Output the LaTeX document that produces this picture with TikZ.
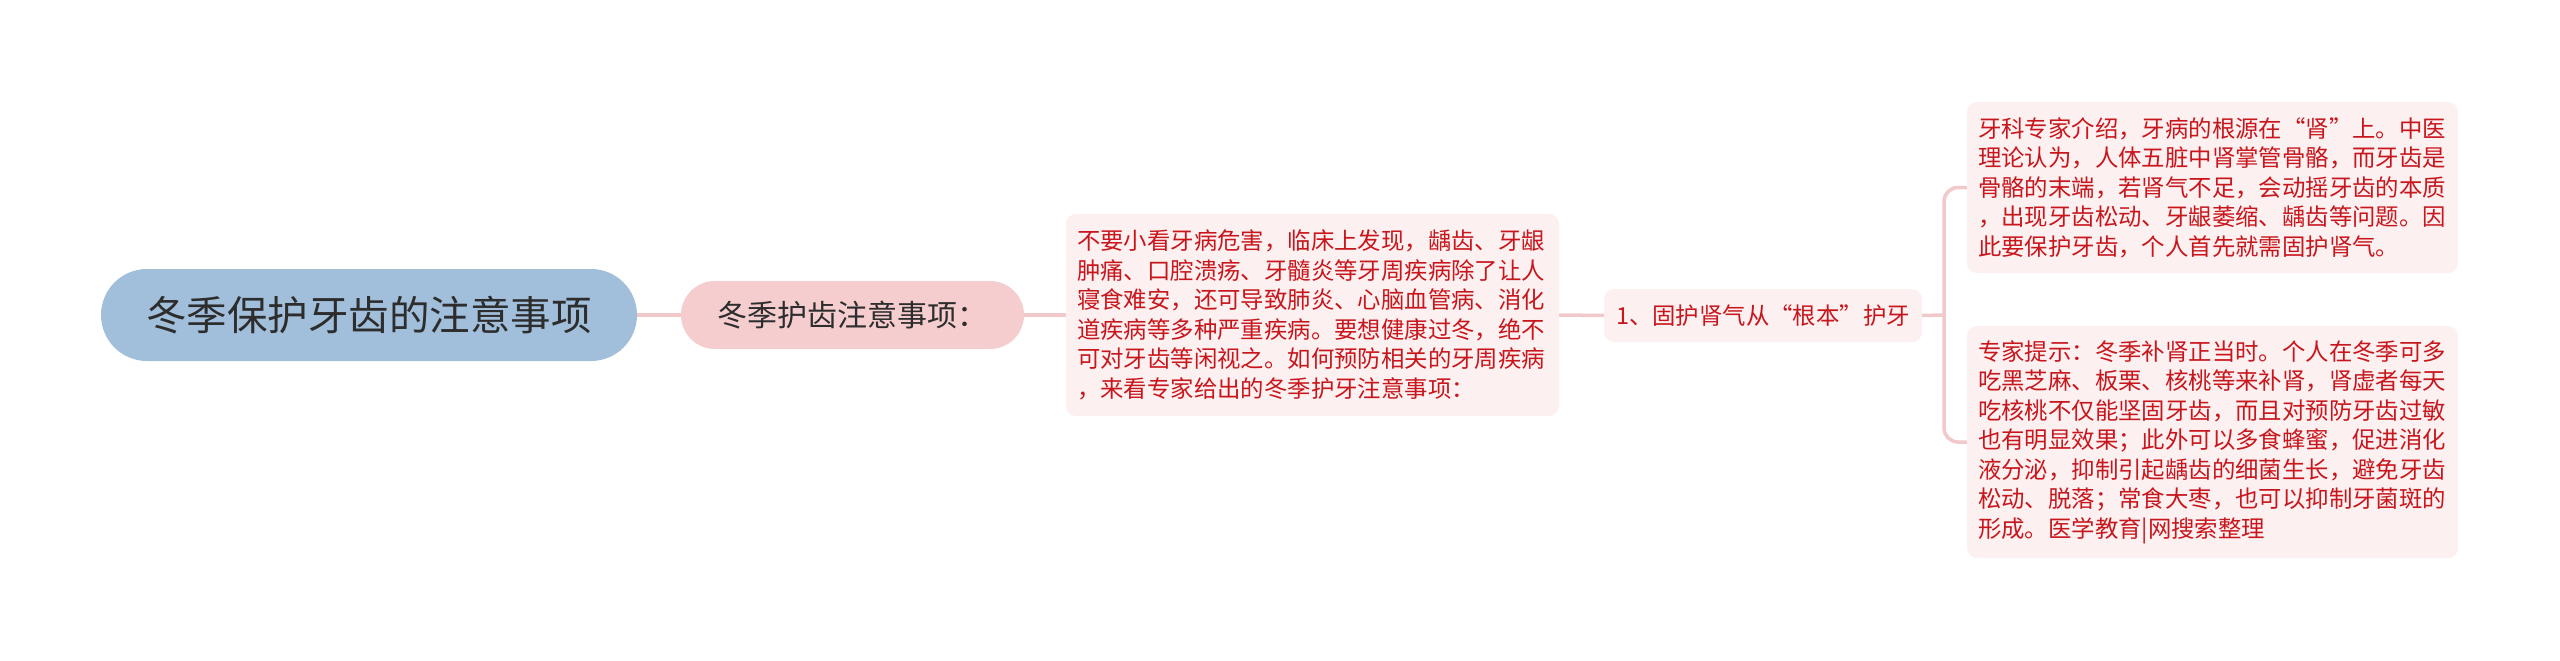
\documentclass[tikz,border=0pt]{standalone}
\usepackage{fontspec}
\setmainfont{Noto Sans CJK SC}
\definecolor{rootfill}{RGB}{161,191,219}
\definecolor{subfill}{RGB}{245,205,207}
\definecolor{leaffill}{RGB}{252,240,240}
\definecolor{linkcol}{RGB}{242,201,203}
\definecolor{redtext}{RGB}{200,22,29}
\definecolor{darktext}{RGB}{45,45,45}
\tikzset{
  rootbox/.style={fill=rootfill, rounded corners=46pt, minimum width=536pt, minimum height=92pt,
    inner sep=0pt, text=darktext, font=\fontsize{40.5}{46}\selectfont},
  subbox/.style={fill=subfill, rounded corners=34pt, minimum width=343pt, minimum height=68pt,
    inner sep=0pt, text=darktext, font=\fontsize{30}{35}\selectfont},
  leafbox/.style={fill=leaffill, rounded corners=10pt, inner xsep=11pt, inner ysep=0pt,
    text=redtext, align=left, font=\fontsize{23.4}{29.5}\selectfont},
  link/.style={draw=linkcol, line width=3.5pt},
}
\begin{document}
\begin{tikzpicture}[x=1pt,y=-1pt]
\useasboundingbox (0,0) rectangle (2560,661);
\fill[white] (0,0) rectangle (2560,661);

\node[rootbox] (root) at (369,315) {冬季保护牙齿的注意事项};
\node[subbox] (sub) at (852.5,315) {冬季护齿注意事项：};
\node[leafbox, text width=471pt, minimum height=202pt] (intro) at (1312.5,315)
  {不要小看牙病危害，临床上发现，龋齿、牙龈\\肿痛、口腔溃疡、牙髓炎等牙周疾病除了让人\\寝食难安，还可导致肺炎、心脑血管病、消化\\道疾病等多种严重疾病。要想健康过冬，绝不\\可对牙齿等闲视之。如何预防相关的牙周疾病\\，来看专家给出的冬季护牙注意事项：};
\node[leafbox, minimum width=318pt, minimum height=53pt, align=center, inner xsep=0pt] (tip) at (1763,315.5)
  {1、固护肾气从“根本”护牙};
\node[leafbox, text width=469pt, minimum height=171pt] (kidney) at (2212.5,187.5)
  {牙科专家介绍，牙病的根源在“肾”上。中医\\理论认为，人体五脏中肾掌管骨骼，而牙齿是\\骨骼的末端，若肾气不足，会动摇牙齿的本质\\，出现牙齿松动、牙龈萎缩、龋齿等问题。因\\此要保护牙齿，个人首先就需固护肾气。};
\node[leafbox, text width=469pt, minimum height=232pt] (food) at (2212.5,442)
  {专家提示：冬季补肾正当时。个人在冬季可多\\吃黑芝麻、板栗、核桃等来补肾，肾虚者每天\\吃核桃不仅能坚固牙齿，而且对预防牙齿过敏\\也有明显效果；此外可以多食蜂蜜，促进消化\\液分泌，抑制引起龋齿的细菌生长，避免牙齿\\松动、脱落；常食大枣，也可以抑制牙菌斑的\\形成。医学教育|网搜索整理};

\coordinate (fork) at (1944,315);
\draw[link] (root.east) -- (sub.west);
\draw[link] (sub.east) -- (intro.west);
\draw[link] (intro.east) -- (tip.west);
\draw[link] (tip.east) -- (fork);
\draw[link, rounded corners=14pt] (fork) |- (kidney.west);
\draw[link, rounded corners=14pt] (fork) |- (food.west);
\end{tikzpicture}
\end{document}
